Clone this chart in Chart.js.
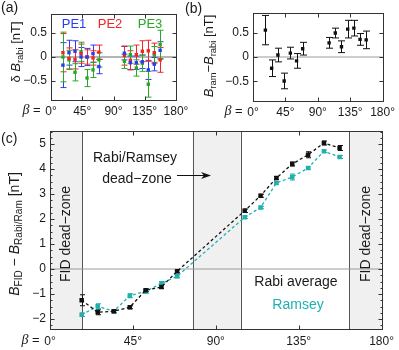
<!DOCTYPE html>
<html>
<head>
<meta charset="utf-8">
<script src="https://cdn.jsdelivr.net/npm/chart.js@4/dist/chart.umd.min.js"></script>
<style>
  body { margin: 0; background: #fff; width: 399px; height: 350px; overflow: hidden; position: relative; }
  canvas { position: absolute; left: 0; top: 0; }
</style>
</head>
<body>
<canvas id="chartA" width="399" height="350"></canvas>
<canvas id="chartB" width="399" height="350"></canvas>
<canvas id="chartC" width="399" height="350"></canvas>
<script>
// rotation angles beta (deg), shared by all three panels
const betaVals = [17.2, 25.9, 34.6, 43.3, 51.9, 60.5, 69.0, 105.7, 114.3, 122.9, 131.5, 140.1, 148.7, 157.2];
const betaTicks = [0, 45, 90, 135, 180];
const smallTicks = [-0.5, 0, 0.5];
const bigTicks = [-2, -1, 0, 1, 2, 3, 4, 5];

// (a) per-probe deviation of the Rabi field [nT]
const pe1Vals = [-0.17, 0.09, 0.12, 0.0, 0.0, 0.07, -0.2, 0.08, -0.12, -0.12, -0.1, -0.27, -0.15, 0.14];
const pe1Errs = [0.47, 0.26, 0.22, 0.2, 0.18, 0.18, 0.15, 0.14, 0.14, 0.14, 0.14, 0.2, 0.14, 0.18];
const pe2Vals = [0.09, -0.03, -0.05, 0.07, 0.0, -0.02, 0.1, 0.03, -0.07, 0.05, 0.12, 0.13, 0.09, -0.06];
const pe2Errs = [0.4, 0.22, 0.2, 0.2, 0.15, 0.15, 0.15, 0.2, 0.2, 0.2, 0.22, 0.22, 0.2, 0.26];
const pe3Vals = [0.0, -0.06, -0.32, 0.11, -0.44, -0.27, -0.06, -0.09, 0.05, -0.23, -0.13, -0.57, 0.04, 0.26];
const pe3Errs = [0.52, 0.2, 0.18, 0.2, 0.18, 0.16, 0.15, 0.15, 0.18, 0.17, 0.17, 0.27, 0.18, 0.3];

// (b) Ramsey minus Rabi [nT]
const diffVals = [0.55, -0.23, 0.04, -0.49, 0.08, -0.08, 0.17, 0.29, 0.49, 0.21, 0.57, 0.59, 0.36, 0.35];
const diffErrs = [0.3, 0.17, 0.14, 0.16, 0.12, 0.15, 0.13, 0.11, 0.1, 0.12, 0.18, 0.16, 0.12, 0.18];

// (c) FID minus Rabi / Ramsey [nT]
const rabiVals = [-1.25, -1.73, -1.69, -1.53, -0.85, -0.72, -0.09, 2.33, 2.93, 3.64, 4.2, 4.57, 5.04, 4.84];
const rabiErrs = [0.22, 0.1, 0.06, 0.06, 0.06, 0.06, 0.06, 0.07, 0.06, 0.06, 0.08, 0.12, 0.08, 0.1];
const ramseyVals = [-1.83, -1.49, -1.69, -1.07, -0.89, -0.58, -0.29, 2.07, 2.46, 3.44, 3.68, 4.04, 4.71, 4.48];
const ramseyErrs = [0.07, 0.1, 0.06, 0.08, 0.08, 0.08, 0.06, 0.05, 0.05, 0.05, 0.12, 0.05, 0.05, 0.06];

// dead zones (deg)
const fidDeadZones = [[0, 17.5], [162.5, 180]];
const rabiDeadZone = [77.5, 103.5];

const FONT = '"Liberation Sans", Arial, Helvetica, sans-serif';
const SERIF = '"Liberation Serif", "Times New Roman", serif';
Chart.defaults.font.family = FONT;
Chart.defaults.font.size = 12;
Chart.defaults.color = '#1a1a1a';
Chart.defaults.animation = false;

const BLUE = '#2a3cf5', RED = '#f22424', GREEN = '#26a826', TEAL = '#1fb0b0';

const pts = vals => betaVals.map((b, i) => ({ x: b, y: vals[i] }));
const fmt = v => v === 0 ? '0' : (v < 0 ? '\u2212' : '') + Math.abs(v);

// text made of pieces: '' normal, 'i' italic, 's' subscript, 'g' italic serif
function drawRich(ctx, t) {
  const size = t.size || 13;
  const fontFor = st => {
    if (st === 's') return (size * 0.72) + 'px ' + FONT;
    if (st === 'i') return 'italic ' + size + 'px ' + FONT;
    if (st === 'g') return 'italic ' + (size + 1) + 'px ' + SERIF;
    return size + 'px ' + FONT;
  };
  ctx.save();
  ctx.translate(t.x, t.y);
  ctx.rotate(t.rot || 0);
  let w = 0;
  t.parts.forEach(p => { ctx.font = fontFor(p[1]); w += ctx.measureText(p[0]).width; });
  let cx = t.align === 'left' ? 0 : t.align === 'right' ? -w : -w / 2;
  ctx.textAlign = 'left';
  ctx.textBaseline = 'middle';
  ctx.fillStyle = t.color || '#1a1a1a';
  t.parts.forEach(p => {
    ctx.font = fontFor(p[1]);
    ctx.fillText(p[0], cx, p[1] === 's' ? size * 0.32 : 0);
    cx += ctx.measureText(p[0]).width;
  });
  ctx.restore();
}

const deco = {
  id: 'deco',
  beforeDatasetsDraw(chart, args, o) {
    const { ctx, chartArea: a, scales: { x, y } } = chart;
    ctx.save();
    (o.shade || []).forEach(r => {
      const x0 = x.getPixelForValue(r[0]), x1 = x.getPixelForValue(r[1]);
      ctx.fillStyle = '#f0f0f0';
      ctx.fillRect(x0, a.top, x1 - x0, a.bottom - a.top);
      ctx.strokeStyle = '#555';
      ctx.lineWidth = 1;
      r.forEach(b => {
        if (b <= x.min || b >= x.max) return;
        const px = Math.round(x.getPixelForValue(b)) + 0.5;
        ctx.beginPath(); ctx.moveTo(px, a.top); ctx.lineTo(px, a.bottom); ctx.stroke();
      });
    });
    if (o.zero) {
      const py = y.getPixelForValue(0);
      ctx.strokeStyle = o.zero.color;
      ctx.lineWidth = o.zero.width;
      ctx.beginPath(); ctx.moveTo(a.left, py); ctx.lineTo(a.right, py); ctx.stroke();
    }
    // error bars
    chart.data.datasets.forEach(ds => {
      if (!ds.errs) return;
      ctx.strokeStyle = ds.borderColor;
      ctx.lineWidth = 1;
      ds.data.forEach((p, j) => {
        const px = Math.round(x.getPixelForValue(p.x)) + 0.5;
        const y0 = y.getPixelForValue(p.y - ds.errs[j]);
        const y1 = y.getPixelForValue(p.y + ds.errs[j]);
        const c = ds.capW;
        ctx.beginPath();
        ctx.moveTo(px, y0); ctx.lineTo(px, y1);
        ctx.moveTo(px - c, y0); ctx.lineTo(px + c, y0);
        ctx.moveTo(px - c, y1); ctx.lineTo(px + c, y1);
        ctx.stroke();
      });
    });
    ctx.restore();
  },
  afterDraw(chart, args, o) {
    const { ctx, chartArea: a, scales: { x, y } } = chart;
    ctx.save();
    ctx.strokeStyle = '#333';
    ctx.lineWidth = 1;
    const L = Math.round(a.left) + 0.5, R = Math.round(a.right) + 0.5;
    const T = Math.round(a.top) + 0.5, B = Math.round(a.bottom) + 0.5;
    ctx.strokeRect(L, T, R - L, B - T);
    // inward tick marks
    ctx.beginPath();
    betaTicks.forEach(v => {
      const px = Math.round(x.getPixelForValue(v)) + 0.5;
      ctx.moveTo(px, B); ctx.lineTo(px, B - 4);
      ctx.moveTo(px, T); ctx.lineTo(px, T + 4);
    });
    y.ticks.forEach(t => {
      const py = Math.round(y.getPixelForValue(t.value)) + 0.5;
      ctx.moveTo(L, py); ctx.lineTo(L + 4, py);
      ctx.moveTo(R, py); ctx.lineTo(R - 4, py);
    });
    if (o.minorY) {
      for (let k = Math.ceil(y.min / o.minorY); k * o.minorY <= y.max; k++) {
        const py = Math.round(y.getPixelForValue(k * o.minorY)) + 0.5;
        ctx.moveTo(L, py); ctx.lineTo(L + 2, py);
        ctx.moveTo(R, py); ctx.lineTo(R - 2, py);
      }
    }
    ctx.stroke();
    // "beta =" in front of the 0 deg label
    ctx.font = '12px ' + FONT;
    const w0 = ctx.measureText('0\u00b0').width;
    drawRich(ctx, { parts: [['\u03b2', 'g'], [' = ', '']], x: x.getPixelForValue(0) - w0 / 2 - 1,
      y: B + o.betaDy, size: 13, align: 'right' });
    (o.texts || []).forEach(t => drawRich(ctx, t));
    (o.arrows || []).forEach(ar => {
      ctx.strokeStyle = '#111';
      ctx.fillStyle = '#111';
      ctx.lineWidth = 1;
      ctx.beginPath(); ctx.moveTo(ar[0], ar[2] + 0.5); ctx.lineTo(ar[1] - 6, ar[2] + 0.5); ctx.stroke();
      ctx.beginPath();
      ctx.moveTo(ar[1], ar[2] + 0.5);
      ctx.lineTo(ar[1] - 10, ar[2] - 3);
      ctx.lineTo(ar[1] - 7, ar[2] + 0.5);
      ctx.lineTo(ar[1] - 10, ar[2] + 4);
      ctx.closePath();
      ctx.fill();
    });
    ctx.restore();
  }
};

function makeScales(yMin, yMax, yTicks, yWidth, xHeight, xPad) {
  return {
    x: {
      type: 'linear', min: 0, max: 180,
      grid: { display: false, drawTicks: false }, border: { display: false },
      afterBuildTicks: s => { s.ticks = betaTicks.map(v => ({ value: v })); },
      afterFit: s => { s.height = xHeight; },
      ticks: { padding: xPad, autoSkip: false, maxRotation: 0, callback: v => v + '\u00b0' }
    },
    y: {
      min: yMin, max: yMax,
      grid: { display: false, drawTicks: false }, border: { display: false },
      afterBuildTicks: s => { s.ticks = yTicks.map(v => ({ value: v })); },
      afterFit: s => { s.width = yWidth; },
      ticks: { padding: 4, autoSkip: false, callback: fmt }
    }
  };
}

function probe(label, vals, errs, color) {
  return { label, data: pts(vals), errs, capW: 3, borderColor: color, backgroundColor: color,
    pointStyle: 'rect', pointRadius: 2.4, pointBorderWidth: 0 };
}

// (a)
new Chart(document.getElementById('chartA'), {
  type: 'scatter',
  data: { datasets: [
    probe('PE1', pe1Vals, pe1Errs, BLUE),
    probe('PE2', pe2Vals, pe2Errs, RED),
    probe('PE3', pe3Vals, pe3Errs, GREEN)
  ] },
  options: {
    responsive: false,
    layout: { padding: { top: 14, right: 223, bottom: 232, left: 0 } },
    scales: makeScales(-0.9, 0.9, smallTicks, 51, 18, 4),
    plugins: {
      legend: { display: false }, tooltip: { enabled: false },
      deco: {
        zero: { color: '#b4b4b4', width: 2 }, betaDy: 10,
        texts: [
          { parts: [['(a)', '']], x: 1, y: 8, size: 14, align: 'left' },
          { parts: [['\u03b4 ', ''], ['B', 'i'], ['rabi', 's'], [' [nT]', '']], x: 16, y: 52, size: 13, rot: -Math.PI / 2 },
          { parts: [['PE1', '']], x: 74, y: 24, size: 13, color: BLUE },
          { parts: [['PE2', '']], x: 110, y: 24, size: 13, color: RED },
          { parts: [['PE3', '']], x: 150, y: 24, size: 13, color: GREEN }
        ]
      }
    }
  },
  plugins: [deco]
});

// (b)
new Chart(document.getElementById('chartB'), {
  type: 'scatter',
  data: { datasets: [
    { label: 'ram-rabi', data: pts(diffVals), errs: diffErrs, capW: 3.5, borderColor: '#111', backgroundColor: '#111',
      pointStyle: 'rect', pointRadius: 2.4, pointBorderWidth: 0 }
  ] },
  options: {
    responsive: false,
    layout: { padding: { top: 13, right: 16, bottom: 231, left: 0 } },
    scales: makeScales(-0.9, 0.9, smallTicks, 253, 18, 4),
    plugins: {
      legend: { display: false }, tooltip: { enabled: false },
      deco: {
        zero: { color: '#9a9a9a', width: 1 }, betaDy: 10,
        texts: [
          { parts: [['(b)', '']], x: 185, y: 9, size: 14, align: 'left' },
          { parts: [['B', 'i'], ['ram', 's'], ['\u2212', ''], ['B', 'i'], ['rabi', 's'], [' [nT]', '']], x: 209, y: 56, size: 13, rot: -Math.PI / 2 }
        ]
      }
    }
  },
  plugins: [deco]
});

// (c)
new Chart(document.getElementById('chartC'), {
  type: 'scatter',
  data: { datasets: [
    { label: 'Rabi average', data: pts(rabiVals), errs: rabiErrs, capW: 2.5, showLine: true,
      borderColor: '#111', backgroundColor: '#111', borderWidth: 1.3, borderDash: [3, 2.5],
      pointStyle: 'rect', pointRadius: 3.2, pointBorderWidth: 0 },
    { label: 'Ramsey', data: pts(ramseyVals), errs: ramseyErrs, capW: 2.5, showLine: true,
      borderColor: TEAL, backgroundColor: TEAL, borderWidth: 1.3, borderDash: [3, 2.5],
      pointStyle: 'rect', pointRadius: 3.2, pointBorderWidth: 0 }
  ] },
  options: {
    responsive: false,
    layout: { padding: { top: 131, right: 17, bottom: 0, left: 0 } },
    scales: makeScales(-2.4, 5.52, bigTicks, 50, 21, 5),
    plugins: {
      legend: { display: false }, tooltip: { enabled: false },
      deco: {
        shade: [fidDeadZones[0], rabiDeadZone, fidDeadZones[1]],
        zero: { color: '#9a9a9a', width: 1 }, minorY: 0.25, betaDy: 11,
        texts: [
          { parts: [['(c)', '']], x: 1, y: 139, size: 14, align: 'left' },
          { parts: [['B', 'i'], ['FID', 's'], [' \u2212 ', ''], ['B', 'i'], ['Rabi/Ram', 's'], [' [nT]', '']], x: 15, y: 234, size: 14, rot: -Math.PI / 2 },
          { parts: [['FID dead\u2212zone', '']], x: 66, y: 282, size: 14, rot: -Math.PI / 2, align: 'left' },
          { parts: [['FID dead\u2212zone', '']], x: 366, y: 282, size: 14, rot: -Math.PI / 2, align: 'left' },
          { parts: [['Rabi/Ramsey', '']], x: 135, y: 158, size: 14 },
          { parts: [['dead\u2212zone', '']], x: 137, y: 179, size: 14 },
          { parts: [['Rabi average', '']], x: 296, y: 282, size: 14 },
          { parts: [['Ramsey', '']], x: 298, y: 305, size: 14, color: TEAL }
        ],
        arrows: [[177, 211, 175]]
      }
    }
  },
  plugins: [deco]
});
</script>
</body>
</html>
